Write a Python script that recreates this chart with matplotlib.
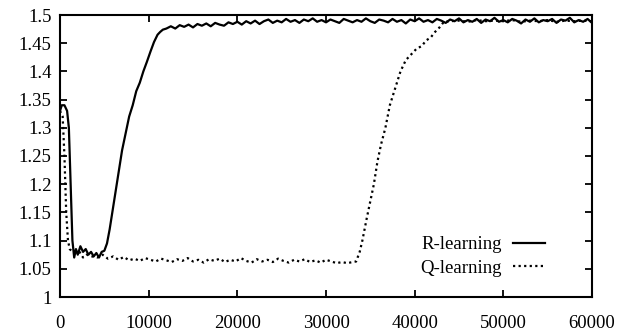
import matplotlib
matplotlib.use("Agg")
import matplotlib.pyplot as plt

# R-learning (solid)
r_x = [0, 200, 500, 800, 1000, 1200, 1400, 1600, 1800, 2000, 2300, 2600, 2900, 3200, 3500,
       3800, 4100, 4400, 4700, 5000, 5300, 5600, 6000, 6300, 6700, 7000, 7400, 7800, 8200,
       8600, 9000, 9400, 9800, 10200, 10600, 11000, 11300, 11600, 12000,
       12500, 13000, 13500, 14000, 14500, 15000, 15500, 16000, 16500, 17000, 17500, 18000,
       18500, 19000, 19500, 20000, 20500, 21000, 21500, 22000, 22500, 23000, 23500, 24000,
       24500, 25000, 25500, 26000, 26500, 27000, 27500, 28000, 28500, 29000, 29500, 30000,
       30500, 31000, 31500, 32000, 32500, 33000, 33500, 34000, 34500, 35000, 35500, 36000,
       36500, 37000, 37500, 38000, 38500, 39000, 39500, 40000, 40500, 41000, 41500, 42000,
       42500, 43000, 43500, 44000, 44500, 45000, 45500, 46000, 46500, 47000, 47500, 48000,
       48500, 49000, 49500, 50000, 50500, 51000, 51500, 52000, 52500, 53000, 53500, 54000,
       54500, 55000, 55500, 56000, 56500, 57000, 57500, 58000, 58500, 59000, 59500, 60000]
r_y = [1.33, 1.34, 1.34, 1.33, 1.30, 1.20, 1.10, 1.07, 1.085, 1.075, 1.09, 1.08, 1.085, 1.075, 1.08,
       1.072, 1.078, 1.07, 1.08, 1.082, 1.095, 1.12, 1.16, 1.19, 1.23, 1.26, 1.29, 1.32, 1.34,
       1.365, 1.38, 1.40, 1.417, 1.435, 1.452, 1.465, 1.470, 1.474, 1.476,
       1.480, 1.476, 1.482, 1.479, 1.483, 1.478, 1.484, 1.481, 1.485, 1.480, 1.486, 1.483,
       1.481, 1.487, 1.484, 1.488, 1.483, 1.489, 1.485, 1.490, 1.484, 1.489, 1.492, 1.486,
       1.490, 1.487, 1.493, 1.488, 1.491, 1.486, 1.492, 1.489, 1.494, 1.488, 1.491, 1.487,
       1.492, 1.489, 1.486, 1.493, 1.490, 1.487, 1.491, 1.488, 1.494, 1.489, 1.486, 1.492,
       1.490, 1.487, 1.493, 1.488, 1.491, 1.485, 1.492, 1.489, 1.494, 1.488, 1.491, 1.487,
       1.493, 1.490, 1.486, 1.492, 1.489, 1.494, 1.487, 1.491, 1.488, 1.493, 1.486, 1.492,
       1.489, 1.495, 1.488, 1.491, 1.487, 1.493, 1.490, 1.485, 1.492, 1.488, 1.494, 1.487,
       1.491, 1.489, 1.493, 1.486, 1.492, 1.490, 1.495, 1.487, 1.491, 1.488, 1.493, 1.486]

# Q-learning (dotted)
q_x = [0, 300, 500, 700, 900, 1100, 1400, 1800, 2200, 2600, 3000, 3600, 4200, 4800, 5400,
       6000, 6600, 7200, 7800, 8400, 9000, 9600, 10200, 10800, 11400, 12000, 12600, 13200,
       13800, 14400, 15000, 15600, 16200, 16800, 17400, 18000, 18600, 19200, 19800, 20400,
       21000, 21600, 22200, 22800, 23400, 24000, 24600, 25200, 25800, 26400, 27000, 27600,
       28200, 28800, 29400, 30000, 30600, 31200, 31800, 32400, 33000, 33400, 33800, 34100,
       34600, 35000, 35400, 35800, 36200, 36700, 37200, 37800, 38400, 39000, 39600, 40200,
       40800, 41300, 41800, 42300, 42800, 43300, 44000, 45000, 46000, 47000, 48000, 49000,
       50000, 51000, 52000, 53000, 54000, 55000, 56000, 57000, 58000, 59000, 60000]
q_y = [1.33, 1.32, 1.25, 1.15, 1.10, 1.085, 1.08, 1.078, 1.08, 1.07, 1.075, 1.072, 1.070, 1.075,
       1.068, 1.072, 1.066, 1.071, 1.065, 1.068, 1.064, 1.069, 1.066, 1.063, 1.068, 1.065,
       1.062, 1.067, 1.064, 1.069, 1.063, 1.066, 1.061, 1.067, 1.064, 1.068, 1.062, 1.066,
       1.063, 1.069, 1.064, 1.061, 1.067, 1.063, 1.066, 1.062, 1.068, 1.064, 1.061, 1.066,
       1.063, 1.067, 1.062, 1.065, 1.061, 1.066, 1.063, 1.060, 1.062, 1.060, 1.062, 1.063,
       1.08, 1.10, 1.14, 1.17, 1.20, 1.24, 1.27, 1.30, 1.34, 1.37, 1.40, 1.42, 1.43, 1.44,
       1.445, 1.455, 1.46, 1.47, 1.478, 1.488, 1.489, 1.490, 1.488, 1.491, 1.489, 1.490,
       1.489, 1.491, 1.488, 1.490, 1.489, 1.491, 1.488, 1.490, 1.489, 1.490, 1.489]

x_ticks = [0, 10000, 20000, 30000, 40000, 50000, 60000]
y_ticks = [1, 1.05, 1.1, 1.15, 1.2, 1.25, 1.3, 1.35, 1.4, 1.45, 1.5]
y_labels = ["1", "1.05", "1.1", "1.15", "1.2", "1.25", "1.3", "1.35", "1.4", "1.45", "1.5"]

plt.rcParams['font.family'] = ['Liberation Serif', 'DejaVu Serif']
fig = plt.figure(figsize=(6.26, 3.32), dpi=100)
ax = fig.add_axes([60/626, 1-297/332, 532/626, 282/332])

ax.plot(r_x, r_y, color='black', lw=1.6, label='R-learning')
ax.plot(q_x, q_y, color='black', lw=1.6, linestyle=(0, (1, 1.5)), label='Q-learning')

ax.set_xlim(0, 60000)
ax.set_ylim(1, 1.5)
ax.set_xticks(x_ticks)
ax.set_xticklabels([str(v) for v in x_ticks])
ax.set_yticks(y_ticks)
ax.set_yticklabels(y_labels)
ax.tick_params(direction='in', length=5, width=1.3, top=True, right=True, labelsize=13.5, colors='black')
ax.tick_params(axis='x', pad=13)
ax.tick_params(axis='y', pad=6)
for s in ax.spines.values():
    s.set_linewidth(1.5)

leg = ax.legend(loc='lower right', bbox_to_anchor=(0.929, 0.038), frameon=False, markerfirst=False,
                fontsize=13.5, handlelength=1.7, handletextpad=0.6, labelspacing=0.35, borderpad=0)

fig.savefig('out.png', dpi=100, facecolor='white')
